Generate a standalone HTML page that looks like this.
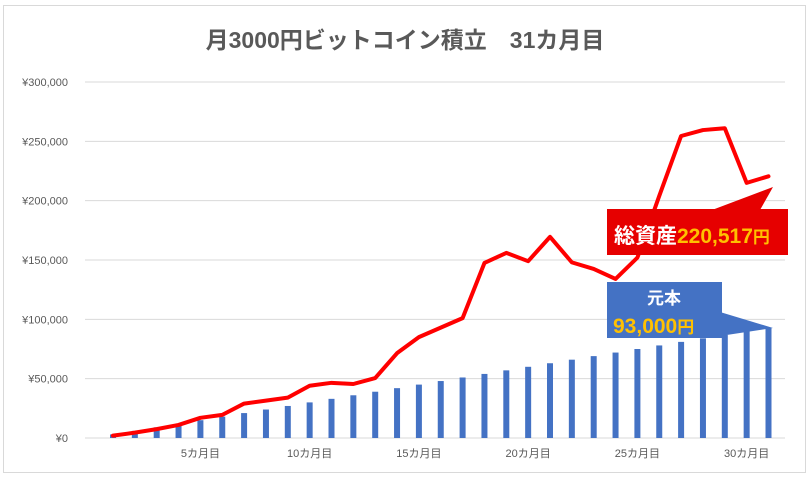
<!DOCTYPE html>
<html><head><meta charset="utf-8"><style>
body{margin:0;background:#fff;}
svg text{font-family:"Liberation Sans","Noto Sans CJK JP",sans-serif;}
</style></head><body>
<svg width="810" height="477" viewBox="0 0 810 477" xmlns="http://www.w3.org/2000/svg">
<rect x="3.5" y="5.5" width="802" height="467" fill="#fff" stroke="#d9d9d9"/>
<text x="405" y="48" text-anchor="middle" font-size="23" font-weight="bold" fill="#595959">月3000円ビットコイン積立　31カ月目</text>
<g id="grid"></g><g id="bars"></g><g id="line"></g><g id="labels"></g>
<g>
<polygon points="712,210 773,187 760,210" fill="#e60000"/>
<rect x="607" y="209" width="181" height="46" fill="#e60000"/>
<text x="614" y="243" font-size="21" font-weight="bold" fill="#fff">総資産<tspan fill="#ffc000">220,517</tspan><tspan fill="#ffc000" font-size="17">円</tspan></text>
</g>
<g>
<polygon points="720,312 773,328 720,336" fill="#4472c4"/>
<rect x="607" y="282" width="115" height="56" fill="#4472c4"/>
<text x="664" y="304" text-anchor="middle" font-size="17" font-weight="bold" fill="#fff">元本</text>
<text x="613" y="333" font-size="21" font-weight="bold" fill="#ffc000">93,000<tspan font-size="17">円</tspan></text>
</g>
</svg>
<script>
const months=[1,2,3,4,5,6,7,8,9,10,11,12,13,14,15,16,17,18,19,20,21,22,23,24,25,26,27,28,29,30,31];
const principal=[3000,6000,9000,12000,15000,18000,21000,24000,27000,30000,33000,36000,39000,42000,45000,48000,51000,54000,57000,60000,63000,66000,69000,72000,75000,78000,81000,84000,87000,90000,93000];
const totalAssets=[2000,4500,7500,11000,17000,19500,29000,31500,34000,44000,46500,45500,50500,71500,85000,93000,101000,147500,156000,149000,169500,148000,142500,134000,152000,204000,254500,259500,261000,215000,220517];
const yTicks=[0,50000,100000,150000,200000,250000,300000];
const yTickLabels=["¥0","¥50,000","¥100,000","¥150,000","¥200,000","¥250,000","¥300,000"];
const xTickLabels={5:"5カ月目",10:"10カ月目",15:"15カ月目",20:"20カ月目",25:"25カ月目",30:"30カ月目"};
const NS="http://www.w3.org/2000/svg";
const X=m=>113+(m-1)*21.85;
const Y=v=>438-v*356/300000;
function mk(t,a,p){const e=document.createElementNS(NS,t);for(const k in a)e.setAttribute(k,a[k]);p.appendChild(e);return e;}
const g=document.getElementById('grid'),b=document.getElementById('bars'),l=document.getElementById('line'),lb=document.getElementById('labels');
yTicks.forEach((v,i)=>{
 const ln=mk('line',{x1:85,x2:785,y1:Y(v),y2:Y(v),stroke:'#d9d9d9','stroke-width':1},g);
 
 
 const t=mk('text',{x:68,y:Y(v)+4,'text-anchor':'end','font-size':11,fill:'#595959'},lb);
 t.textContent=yTickLabels[i];
 
 
});
months.forEach((m,i)=>{
 const r=mk('rect',{x:X(m)-3,y:Y(principal[i]),width:6,height:Y(0)-Y(principal[i]),fill:'#4472c4'},b);
 
 
 if(xTickLabels[m]){
  const t=mk('text',{x:X(m),y:457,'text-anchor':'middle','font-size':11,fill:'#595959'},lb);
  t.textContent=xTickLabels[m];
  
  
 }
});
const pts=months.map((m,i)=>X(m)+','+Y(totalAssets[i])).join(' ');
const pl=mk('polyline',{points:pts,fill:'none',stroke:'#ff0000','stroke-width':4,'stroke-linejoin':'round','stroke-linecap':'round'},l);


</script>
</body></html>
